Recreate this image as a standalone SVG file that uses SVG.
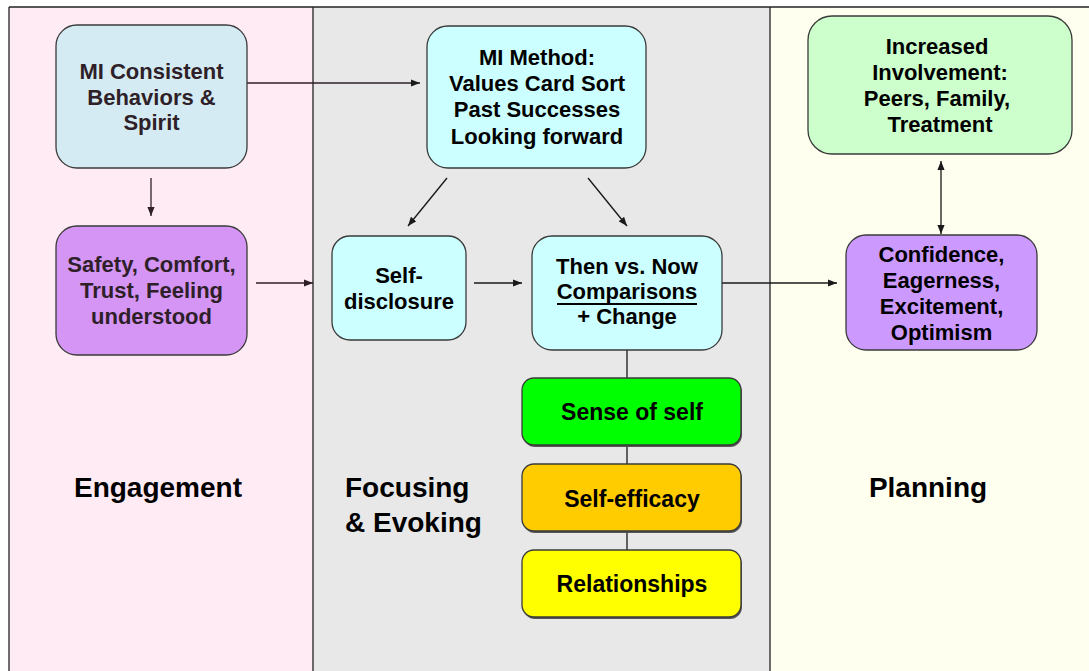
<svg xmlns="http://www.w3.org/2000/svg" width="1089" height="671" viewBox="0 0 1089 671">
<defs>
<style>
.t{font-family:"Liberation Sans",Arial,sans-serif;font-weight:bold;text-anchor:middle;fill:#000}
.tn{font-size:22px}
.tb{font-size:23px}
.tl{font-size:28px}
.dk{fill:#2e1f28}
.box{stroke:#3a3a3a;stroke-width:1.3}
.c{stroke:#1a1a1a;stroke-width:1.3;fill:none}
.c2{stroke:#2e1f28;stroke-width:1.3;fill:none}
.lane{stroke:#222;stroke-width:1.3}
</style>
<marker id="ah" viewBox="0 0 10 8" refX="10" refY="4" markerUnits="userSpaceOnUse" markerWidth="9" markerHeight="7.5" orient="auto-start-reverse">
<path d="M0,0 L10,4 L0,8 z" fill="#1a1a1a"/>
</marker>
<marker id="ah2" viewBox="0 0 10 8" refX="10" refY="4" markerUnits="userSpaceOnUse" markerWidth="9" markerHeight="7.5" orient="auto">
<path d="M0,0 L10,4 L0,8 z" fill="#2e1f28"/>
</marker>
</defs>
<rect x="0" y="0" width="1089" height="671" fill="#fff"/>
<g id="lanes">
<rect x="9" y="7" width="304" height="664" fill="#ffebf4"/>
<rect x="313" y="7" width="457" height="664" fill="#e8e8e8"/>
<rect x="770" y="7" width="319" height="664" fill="#fffff0"/>
<line class="lane" x1="9" y1="7" x2="1089" y2="7"/>
<line class="lane" x1="9" y1="7" x2="9" y2="671"/>
<line class="lane" x1="313" y1="7" x2="313" y2="671"/>
<line class="lane" x1="770" y1="7" x2="770" y2="671"/>
<text class="t tl" x="158" y="497">Engagement</text>
<text class="t tl" x="345" y="497" style="text-anchor:start">Focusing</text>
<text class="t tl" x="345" y="532" style="text-anchor:start">&amp; Evoking</text>
<text class="t tl" x="928" y="497">Planning</text>
</g>
<g id="connectors">
<line class="c2" x1="247" y1="83" x2="420" y2="83" marker-end="url(#ah)"/>
<line class="c2" x1="151" y1="178" x2="151" y2="216" marker-end="url(#ah2)"/>
<line class="c2" x1="256" y1="283" x2="313" y2="283" marker-end="url(#ah2)"/>
<line class="c" x1="447" y1="178" x2="408" y2="226" marker-end="url(#ah)"/>
<line class="c" x1="588" y1="178" x2="627" y2="226" marker-end="url(#ah)"/>
<line class="c" x1="474" y1="283" x2="522" y2="283" marker-end="url(#ah)"/>
<line class="c" x1="722" y1="283" x2="837" y2="283" marker-end="url(#ah)"/>
<line class="c" x1="941" y1="161" x2="941" y2="234" marker-start="url(#ah)" marker-end="url(#ah)"/>
<line class="c" x1="627" y1="350" x2="627" y2="378"/>
<line class="c" x1="627" y1="445" x2="627" y2="464"/>
<line class="c" x1="627" y1="531" x2="627" y2="550"/>
</g>
<g id="mi-consistent">
<rect class="box" x="56" y="25" width="191" height="143" rx="21" fill="#d5ebf3"/>
<text class="t tn dk" x="151.5" y="79">MI Consistent</text>
<text class="t tn dk" x="151.5" y="105">Behaviors &amp;</text>
<text class="t tn dk" x="151.5" y="130">Spirit</text>
</g>
<g id="safety">
<rect class="box" x="56" y="226" width="191" height="129" rx="21" fill="#d495f5"/>
<text class="t tn dk" x="151.5" y="272">Safety, Comfort,</text>
<text class="t tn dk" x="151.5" y="298">Trust, Feeling</text>
<text class="t tn dk" x="151.5" y="324">understood</text>
</g>
<g id="mi-method">
<rect class="box" x="427" y="26" width="219" height="142" rx="21" fill="#ccffff"/>
<text class="t tn" x="537" y="65">MI Method:</text>
<text class="t tn" x="537" y="91">Values Card Sort</text>
<text class="t tn" x="537" y="117">Past Successes</text>
<text class="t tn" x="537" y="144">Looking forward</text>
</g>
<g id="self-disclosure">
<rect class="box" x="332" y="236" width="134" height="104" rx="18" fill="#ccffff"/>
<text class="t tn" x="399" y="283">Self-</text>
<text class="t tn" x="399" y="309">disclosure</text>
</g>
<g id="then-now">
<rect class="box" x="532" y="236" width="190" height="114" rx="20" fill="#ccffff"/>
<text class="t tn" x="627" y="274">Then vs. Now</text>
<text class="t tn" x="627" y="299">Comparisons</text>
<line x1="557" y1="304" x2="697" y2="304" stroke="#000" stroke-width="1.8"/>
<text class="t tn" x="627" y="324">+ Change</text>
</g>
<g id="sense-of-self">
<rect x="523" y="380" width="219" height="67" rx="12" fill="#555"/>
<rect class="box" x="522" y="378" width="219" height="67" rx="12" fill="#00ff00"/>
<text class="t tb" x="632" y="420">Sense of self</text>
</g>
<g id="self-efficacy">
<rect x="523" y="466" width="219" height="67" rx="12" fill="#555"/>
<rect class="box" x="522" y="464" width="219" height="67" rx="12" fill="#ffcc00"/>
<text class="t tb" x="632" y="507">Self-efficacy</text>
</g>
<g id="relationships">
<rect x="523" y="552" width="219" height="67" rx="12" fill="#555"/>
<rect class="box" x="522" y="550" width="219" height="67" rx="12" fill="#ffff00"/>
<text class="t tb" x="632" y="592">Relationships</text>
</g>
<g id="increased-involvement">
<rect class="box" x="808" y="16" width="264" height="138" rx="24" fill="#ccffcc"/>
<text class="t tn" x="937" y="54">Increased</text>
<text class="t tn" x="940" y="80">Involvement:</text>
<text class="t tn" x="937" y="106">Peers, Family,</text>
<text class="t tn" x="940" y="132">Treatment</text>
</g>
<g id="confidence">
<rect class="box" x="846" y="235" width="191" height="115" rx="20" fill="#cc99ff"/>
<text class="t tn" x="941.5" y="262">Confidence,</text>
<text class="t tn" x="941.5" y="288">Eagerness,</text>
<text class="t tn" x="941.5" y="314">Excitement,</text>
<text class="t tn" x="941.5" y="340">Optimism</text>
</g>
</svg>
